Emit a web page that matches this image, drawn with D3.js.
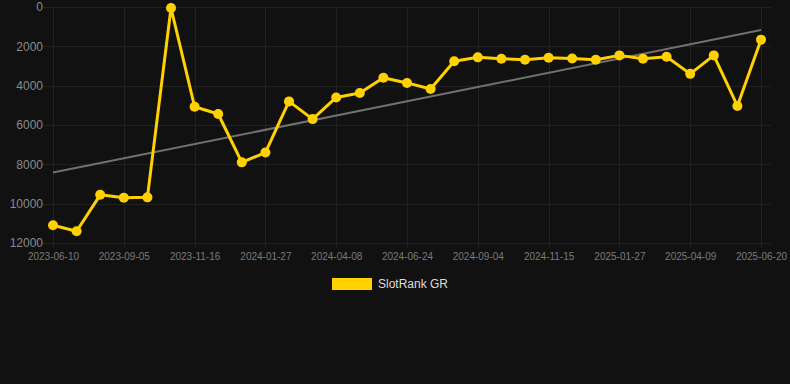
<!DOCTYPE html>
<html><head><meta charset="utf-8">
<script src="https://cdn.jsdelivr.net/npm/d3@7"></script>
<style>html,body{margin:0;padding:0;background:#111111;}svg{display:block;}</style>
</head><body>
<svg id="c" width="790" height="384"></svg>
<script>
const dates = ["2023-06-10","2023-07-09","2023-08-07","2023-09-05","2023-09-29","2023-10-23","2023-11-16","2023-12-10","2024-01-03","2024-01-27","2024-02-20","2024-03-15","2024-04-08","2024-05-03","2024-05-29","2024-06-24","2024-07-21","2024-08-13","2024-09-04","2024-09-28","2024-10-22","2024-11-15","2024-12-09","2025-01-03","2025-01-27","2025-02-20","2025-03-16","2025-04-09","2025-05-03","2025-05-27","2025-06-20"];
const ranks = [11100,11400,9550,9700,9680,50,5070,5440,7900,7400,4800,5700,4600,4370,3600,3860,4170,2760,2560,2630,2680,2580,2620,2680,2460,2630,2530,3400,2460,5030,1660];
const trend = [8420, 1170];
const yTicks = [0,2000,4000,6000,8000,10000,12000];
const seriesName = "SlotRank GR";

(function(){
const svg = d3.select("#c");
const pl = 43, pr = 771, pt = 7, pb = 243;
const x = d3.scalePoint().domain(dates).range([53, 761]);
const y = d3.scaleLinear().domain([0, 12000]).range([pt, pb]);
const font = "'Liberation Sans', Arial, Helvetica, sans-serif";

const tickDates = dates.filter((d,i)=> i%3===0);
svg.append("g").selectAll("line").data(yTicks).join("line")
  .attr("x1", pl).attr("x2", pr)
  .attr("y1", d=>Math.round(y(d))+0.5).attr("y2", d=>Math.round(y(d))+0.5)
  .attr("stroke", "#212121").attr("stroke-width", 1);
svg.append("g").selectAll("line").data(tickDates).join("line")
  .attr("x1", d=>Math.round(x(d))+0.5).attr("x2", d=>Math.round(x(d))+0.5)
  .attr("y1", pt).attr("y2", pb+5)
  .attr("stroke", "#212121").attr("stroke-width", 1);

const yAxis = d3.axisLeft(y).tickValues(yTicks).tickSize(0).tickPadding(0).tickFormat(d3.format("d"));
const gy = svg.append("g").attr("transform", `translate(${pl},0)`).call(yAxis);
gy.select(".domain").remove();
gy.selectAll("text").attr("fill", "#8a8a8a").style("font-family", font).style("font-size", "12px");

const xAxis = d3.axisBottom(x).tickValues(tickDates).tickSize(0).tickPadding(0);
const gx = svg.append("g").attr("transform", `translate(0,${pb+10})`).call(xAxis);
gx.select(".domain").remove();
gx.selectAll("text").attr("fill", "#7a7a7a").style("font-family", font).style("font-size", "10px").attr("dy","0.71em");

svg.append("line")
  .attr("x1", x(dates[0])).attr("y1", y(trend[0]))
  .attr("x2", x(dates[dates.length-1])).attr("y2", y(trend[1]))
  .attr("stroke", "#707070").attr("stroke-width", 2);

const line = d3.line().x((d,i)=>x(dates[i])).y(d=>y(d));
svg.append("path").datum(ranks).attr("d", line)
  .attr("fill","none").attr("stroke","#FFD100").attr("stroke-width",3).attr("stroke-linejoin","round");
svg.append("g").selectAll("circle").data(ranks).join("circle")
  .attr("cx",(d,i)=>x(dates[i])).attr("cy",d=>y(d)).attr("r",5)
  .attr("fill","#FFD100");

svg.append("rect").attr("x",332).attr("y",278).attr("width",40).attr("height",12).attr("fill","#FFD100");
svg.append("text").attr("x",378).attr("y",284).attr("dy","0.35em").text(seriesName)
  .attr("fill","#dddddd").style("font-family",font).style("font-size","12px");
})();
</script>
</body></html>
